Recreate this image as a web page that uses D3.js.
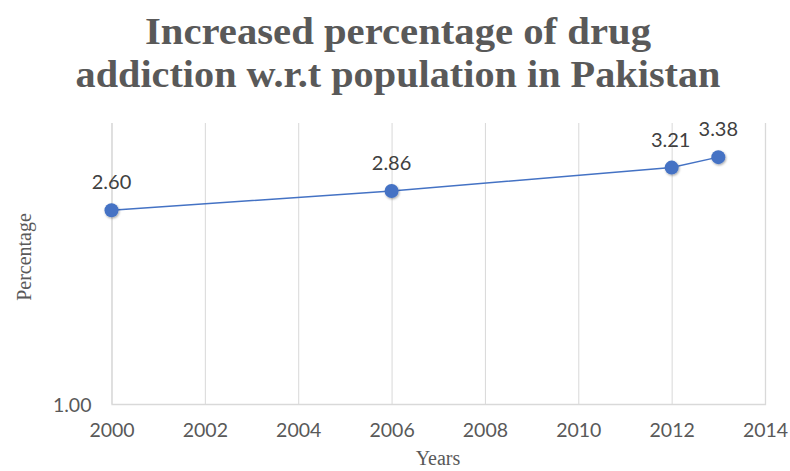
<!DOCTYPE html>
<html>
<head>
<meta charset="utf-8">
<script src="https://cdn.jsdelivr.net/npm/d3@7"></script>
<style>
  body { margin: 0; background: #fff; }
</style>
</head>
<body>
<div id="chart"></div>
<script>
// data
const years = [2000, 2006, 2012, 2013];
const percentages = [2.60, 2.86, 3.21, 3.38];
const xTicks = [2000, 2002, 2004, 2006, 2008, 2010, 2012, 2014];
const yTicks = [1];
const titleLines = ["Increased percentage of drug", "addiction w.r.t population in Pakistan"];

const width = 790;
const height = 471;
const plotLeft = 111.5, plotRight = 765, plotTop = 123, plotBottom = 404;

const svg = d3.select("div#chart").append("svg")
    .attr("width", width)
    .attr("height", height);

// scales
const xScale = d3.scaleLinear().domain([2000, 2014]).range([plotLeft, plotRight]);
const yScale = d3.scaleLog().base(4).domain([1, 4]).range([plotBottom, plotTop]);

// shadow for markers
const defs = svg.append("defs");
const f = defs.append("filter").attr("id", "shadow")
    .attr("x", "-50%").attr("y", "-50%").attr("width", "200%").attr("height", "200%");
f.append("feDropShadow").attr("dx", 0.8).attr("dy", 1.2).attr("stdDeviation", 1.2)
    .attr("flood-color", "#000").attr("flood-opacity", 0.35);

// title
svg.append("g").selectAll("text")
  .data(titleLines)
  .join("text")
    .attr("x", width / 2 + 3)
    .attr("y", (d, i) => 44 + i * 43)
    .attr("text-anchor", "middle")
    .attr("font-family", "Liberation Serif, serif")
    .attr("font-weight", "bold")
    .attr("font-size", 37)
    .attr("fill", "#595959")
    .attr("textLength", (d, i) => i === 0 ? 506 : 645)
    .attr("lengthAdjust", "spacingAndGlyphs")
    .text(d => d);

// vertical gridlines + x axis
const xaxis = d3.axisBottom(xScale)
    .tickValues(xTicks)
    .tickFormat(d3.format("d"))
    .tickSize(-(plotBottom - plotTop))
    .tickPadding(19);

const gx = svg.append("g")
    .attr("transform", "translate(0," + plotBottom + ")")
    .call(xaxis);
gx.select(".domain").attr("stroke", "#d9d9d9").attr("stroke-width", 1.3);
gx.selectAll(".tick line").attr("stroke", "#d9d9d9").attr("stroke-width", 1);
gx.selectAll(".tick text")
    .attr("fill", "#595959")
    .attr("font-family", "Lato, sans-serif")
    .attr("font-size", 19.5);

// y axis (label only)
const yaxis = d3.axisLeft(yScale)
    .tickValues(yTicks)
    .tickFormat(d3.format(".2f"))
    .tickSize(0)
    .tickPadding(20);
const gy = svg.append("g")
    .attr("transform", "translate(" + plotLeft + ",0)")
    .call(yaxis);
gy.select(".domain").remove();
gy.selectAll(".tick text")
    .attr("fill", "#595959")
    .attr("font-family", "Lato, sans-serif")
    .attr("font-size", 19.5)
    .attr("dy", "0.36em");

// axis titles
svg.append("text")
    .attr("x", 438)
    .attr("y", 465)
    .attr("text-anchor", "middle")
    .attr("font-family", "Liberation Serif, serif")
    .attr("font-size", 20)
    .attr("fill", "#595959")
    .text("Years");

svg.append("text")
    .attr("transform", "translate(31,257) rotate(-90)")
    .attr("text-anchor", "middle")
    .attr("font-family", "Liberation Serif, serif")
    .attr("font-size", 20)
    .attr("fill", "#595959")
    .text("Percentage");

// line
const pts = years.map((y, i) => [y, percentages[i]]);
const line = d3.line().x(d => xScale(d[0])).y(d => yScale(d[1]));
svg.append("path")
    .datum(pts)
    .attr("d", line)
    .attr("fill", "none")
    .attr("stroke", "#4472c4")
    .attr("stroke-width", 1.5);

// markers
svg.append("g").selectAll("circle")
  .data(pts)
  .join("circle")
    .attr("cx", d => xScale(d[0]))
    .attr("cy", d => yScale(d[1]))
    .attr("r", 7)
    .attr("fill", "#4472c4")
    .attr("filter", "url(#shadow)");

// data labels
svg.append("g").selectAll("text")
  .data(pts)
  .join("text")
    .attr("x", d => xScale(d[0]) + (d[0] === 2012 ? -1 : 0))
    .attr("y", d => yScale(d[1]) - 21)
    .attr("text-anchor", "middle")
    .attr("font-family", "Lato, sans-serif")
    .attr("font-size", 20)
    .attr("fill", "#404040")
    .text(d => d3.format(".2f")(d[1]));
</script>
</body>
</html>
